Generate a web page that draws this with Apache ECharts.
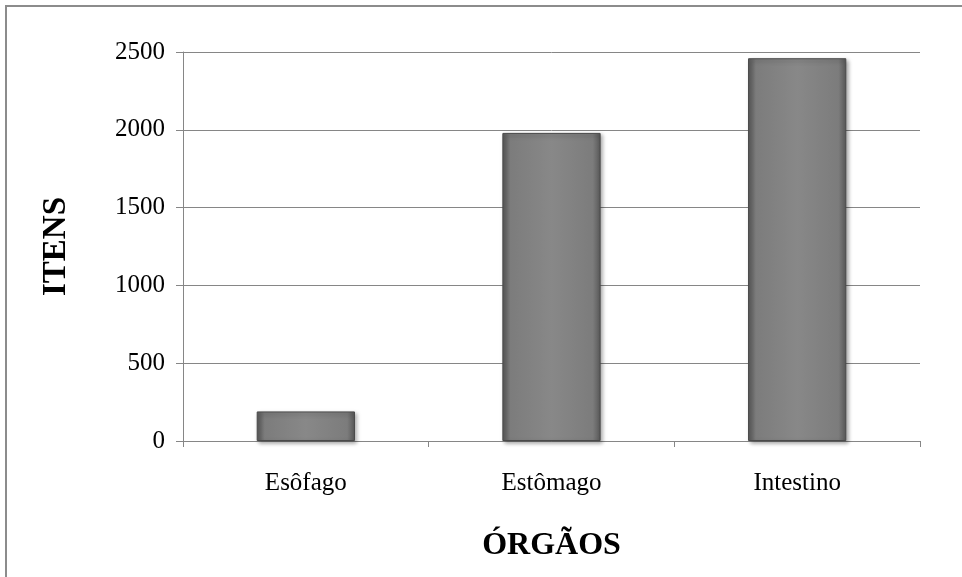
<!DOCTYPE html>
<html>
<head>
<meta charset="utf-8">
<script src="https://cdn.jsdelivr.net/npm/echarts@6/dist/echarts.min.js"></script>
<style>
  html, body { margin: 0; padding: 0; background: #fff; }
  #frame { position: absolute; left: 5px; top: 5px; width: 980px; height: 600px;
           border-top: 2px solid #8c8c8c; border-left: 2px solid #8c8c8c; box-sizing: border-box; }
  #chart { position: absolute; left: 0; top: 0; width: 962px; height: 577px; }
</style>
</head>
<body>
<div id="frame"></div>
<div id="chart"></div>
<script>
// Organ categories and item counts
const categories = ['Esôfago', 'Estômago', 'Intestino'];
const itemCounts = [190, 1980, 2460];
const yTicks = [0, 500, 1000, 1500, 2000, 2500];

const chart = echarts.init(document.getElementById('chart'), null, { renderer: 'canvas' });

// Beveled grey fill: darker at the sides, lighter in the middle
const barFill = new echarts.graphic.LinearGradient(0, 0, 1, 0, [
  { offset: 0, color: '#585858' },
  { offset: 0.08, color: '#7c7c7c' },
  { offset: 0.5, color: '#888888' },
  { offset: 0.92, color: '#7c7c7c' },
  { offset: 1, color: '#585858' }
]);

chart.setOption({
  animation: false,
  grid: { left: 183, right: 42, top: 52, bottom: 136, containLabel: false },
  xAxis: {
    type: 'category',
    data: categories,
    name: 'ÓRGÃOS',
    nameLocation: 'middle',
    nameGap: 89,
    nameTextStyle: { fontFamily: 'Liberation Serif', fontSize: 32, fontWeight: 'bold', color: '#000' },
    axisLine: { lineStyle: { color: '#868686', width: 1 } },
    axisTick: { show: true, alignWithLabel: false, length: 6, lineStyle: { color: '#868686' } },
    axisLabel: { fontFamily: 'Liberation Serif', fontSize: 25, color: '#000', margin: 30 }
  },
  yAxis: {
    type: 'value',
    min: yTicks[0],
    max: yTicks[yTicks.length - 1],
    interval: 500,
    name: 'ITENS',
    nameLocation: 'middle',
    nameGap: 110,
    nameRotate: 90,
    nameTextStyle: { fontFamily: 'Liberation Serif', fontSize: 33, fontWeight: 'bold', color: '#000' },
    axisLine: { show: true, lineStyle: { color: '#868686', width: 1 } },
    axisTick: { show: true, length: 7, lineStyle: { color: '#868686' } },
    axisLabel: {
      fontFamily: 'Liberation Serif', fontSize: 25, color: '#000', margin: 18,
      formatter: (v) => String(v)
    },
    splitLine: { show: true, lineStyle: { color: '#868686', width: 1 } }
  },
  series: [{
    type: 'bar',
    data: itemCounts,
    barWidth: '40%',
    itemStyle: {
      color: barFill,
      borderColor: '#4a4a4a',
      borderWidth: 1,
      shadowColor: 'rgba(0,0,0,0.35)',
      shadowBlur: 4,
      shadowOffsetX: 2,
      shadowOffsetY: 2
    }
  }]
});
</script>
</body>
</html>
